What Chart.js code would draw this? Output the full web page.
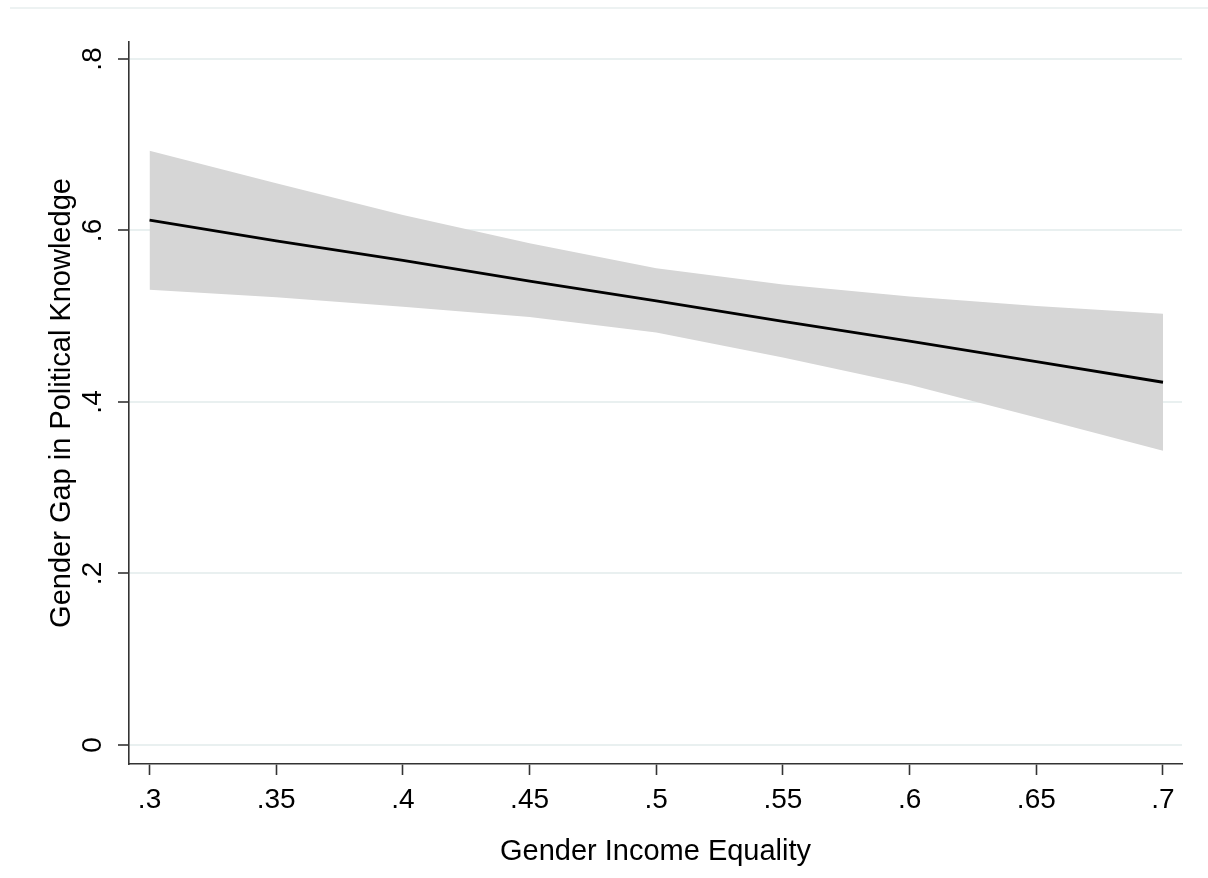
<!DOCTYPE html>
<html>
<head>
<meta charset="utf-8">
<title>Gender Gap in Political Knowledge</title>
<script src="https://cdn.jsdelivr.net/npm/chart.js@4.4.1/dist/chart.umd.min.js"></script>
<style>
  html, body { margin: 0; padding: 0; background: #fff; }
  #wrap { position: relative; width: 1208px; height: 878px; }
  #topRule { position: absolute; left: 10px; right: 0; top: 7px; height: 2px; background: #edf2f2; }
</style>
</head>
<body>
<div id="wrap">
  <div id="topRule"></div>
  <canvas id="myChart" width="1208" height="878"></canvas>
</div>
<script>
// predicted gap with 95% band, evaluated along income equality
const equality = [0.30, 0.35, 0.40, 0.45, 0.50, 0.55, 0.60, 0.65, 0.70];
const fitted   = [0.612, 0.588, 0.565, 0.541, 0.518, 0.494, 0.471, 0.447, 0.423];
const upperCI  = [0.693, 0.655, 0.618, 0.585, 0.556, 0.537, 0.523, 0.512, 0.503];
const lowerCI  = [0.531, 0.522, 0.511, 0.499, 0.481, 0.452, 0.420, 0.382, 0.343];

const xTicks = [0.30, 0.35, 0.40, 0.45, 0.50, 0.55, 0.60, 0.65, 0.70];
const xTickLabels = ['.3', '.35', '.4', '.45', '.5', '.55', '.6', '.65', '.7'];
const yTicks = [0, 0.2, 0.4, 0.6, 0.8];
const yTickLabels = ['0', '.2', '.4', '.6', '.8'];

function points(ys) {
    return equality.map((x, i) => ({x: x, y: ys[i]}));
}

function createChart() {

    const ctx = document.getElementById('myChart');
    const axisColor = '#333';
    const family = '"Liberation Sans", Arial, sans-serif';
    const tickFont = {family: family, size: 28};
    const titleFont = {family: family, size: 29};

    const data = {
        datasets: [
            {
                label: 'Fitted',
                data: points(fitted),
                borderColor: '#000',
                borderWidth: 2.8,
                pointRadius: 0,
                fill: false,
            },
            {
                label: 'Upper',
                data: points(upperCI),
                borderWidth: 0,
                borderColor: 'rgba(0,0,0,0)',
                backgroundColor: '#d6d6d6',
                pointRadius: 0,
                fill: '+1',
            },
            {
                label: 'Lower',
                data: points(lowerCI),
                borderWidth: 0,
                borderColor: 'rgba(0,0,0,0)',
                pointRadius: 0,
                fill: false,
            },
        ]
    };

    const config = {
        type: 'line',
        data: data,
        options: {
            responsive: false,
            animation: false,
            layout: {
                padding: {top: 42, right: 26, left: 0, bottom: 0}
            },
            plugins: {
                legend: {display: false},
                tooltip: {enabled: false}
            },
            scales: {
                x: {
                    type: 'linear',
                    min: 0.2919,
                    max: 0.7075,
                    afterBuildTicks: (scale) => {
                        scale.ticks = xTicks.map(v => ({value: v}));
                    },
                    afterFit: (scale) => {
                        scale.height = 114;
                    },
                    border: {color: axisColor, width: 1.6},
                    grid: {
                        drawOnChartArea: false,
                        drawTicks: true,
                        tickLength: 11,
                        tickColor: axisColor,
                        tickWidth: 1.6
                    },
                    ticks: {
                        autoSkip: false,
                        maxRotation: 0,
                        padding: 8,
                        color: '#000',
                        font: tickFont,
                        callback: (value, i) => xTickLabels[i]
                    },
                    title: {
                        display: true,
                        text: 'Gender Income Equality',
                        color: '#000',
                        font: titleFont,
                        padding: {top: 0, bottom: 9}
                    }
                },
                y: {
                    type: 'linear',
                    min: -0.0222,
                    max: 0.8198,
                    afterBuildTicks: (scale) => {
                        scale.ticks = yTicks.map(v => ({value: v}));
                    },
                    afterFit: (scale) => {
                        scale.width = 129;
                    },
                    border: {color: axisColor, width: 1.6},
                    grid: {
                        color: '#e9f0f0',
                        lineWidth: 2,
                        drawTicks: true,
                        tickLength: 11,
                        tickColor: axisColor,
                        tickWidth: 1.6
                    },
                    ticks: {
                        autoSkip: false,
                        minRotation: 90,
                        maxRotation: 90,
                        crossAlign: 'center',
                        padding: 13,
                        color: '#000',
                        font: tickFont,
                        callback: (value, i) => yTickLabels[i]
                    },
                    title: {
                        display: true,
                        text: 'Gender Gap in Political Knowledge',
                        color: '#000',
                        font: titleFont,
                        padding: {top: 45, bottom: 0}
                    }
                }
            }
        }
    };

    new Chart(ctx, config);
}

createChart();
</script>
</body>
</html>
